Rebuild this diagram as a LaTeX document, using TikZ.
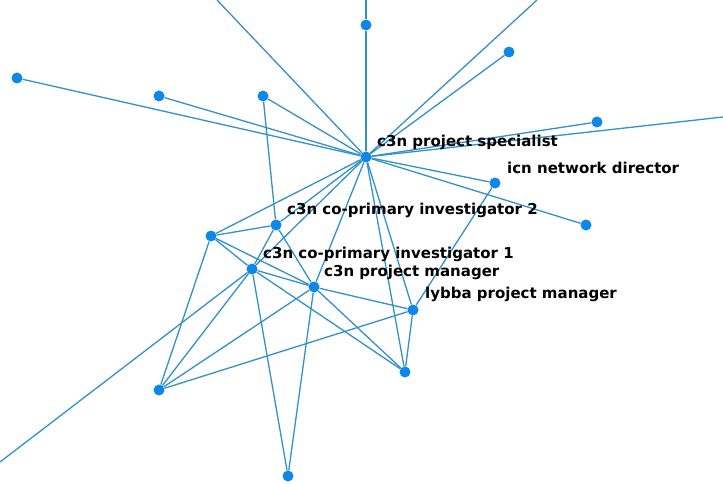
\documentclass[tikz,border=0pt]{standalone}
\usepackage{fontspec}
\setmainfont{DejaVu Sans}
\usepackage{tikz}

\definecolor{dotblue}{RGB}{15,135,230}
\definecolor{linkblue}{RGB}{50,145,200}

\tikzset{
  dot/.style={circle, fill=dotblue, inner sep=0pt, minimum size=11pt},
  link/.style={draw=linkblue, line width=1.3pt},
  tag/.style={anchor=west, inner sep=0pt, font=\bfseries\fontsize{15}{17}\selectfont}
}

\begin{document}
\begin{tikzpicture}[x=1pt, y=-1pt]
    \useasboundingbox (0,0) rectangle (723,484);

    % Draw the nodes
    \node[dot] (spec) at (366,157) {};
    \node[dot] (top) at (366,25) {};
    \node[dot] (ne) at (509,52) {};
    \node[dot] (east) at (597,122) {};
    \node[dot] (icn) at (495,183) {};
    \node[dot] (se) at (586,225) {};
    \node[dot] (far) at (17,78) {};
    \node[dot] (nw) at (159,96) {};
    \node[dot] (nnw) at (263,96) {};
    \node[dot] (left) at (211,236) {};
    \node[dot] (copi2) at (276,225) {};
    \node[dot] (copi1) at (252,269) {};
    \node[dot] (pm) at (314,287) {};
    \node[dot] (lybba) at (413,310) {};
    \node[dot] (low) at (405,372) {};
    \node[dot] (sw) at (159,390) {};
    \node[dot] (bottom) at (288,476) {};

    % Loose ends leaving the picture
    \coordinate (outtop) at (366,0);
    \coordinate (outtl) at (217,0);
    \coordinate (outtr) at (537,0);
    \coordinate (outright) at (723,117);
    \coordinate (outbl) at (0,462);

    % Draw the links
    \foreach \a/\b in {spec/top, top/outtop, spec/outtl, spec/outtr, spec/ne,
        spec/east, spec/outright, spec/far, spec/nw, spec/nnw, spec/icn,
        spec/se, spec/left, spec/copi2, spec/copi1, spec/pm, spec/low,
        spec/lybba, icn/lybba, nnw/copi2}
      \draw[link] (\a) -- (\b);
    \foreach \a/\b in {left/copi2, left/copi1, left/pm, left/sw,
        copi2/copi1, copi2/pm, copi1/pm, copi1/low, copi1/sw, copi1/bottom,
        copi1/outbl, pm/lybba, pm/low, pm/sw, pm/bottom, lybba/low, lybba/sw}
      \draw[link] (\a) -- (\b);

    % Label the nodes
    \node[tag] (specl) at (377,142) {c3n project specialist};
    \node[tag] (icnl) at (507,168) {icn network director};
    \node[tag] (copi2l) at (287,210) {c3n co-primary investigator 2};
    \node[tag] (copi1l) at (263,254) {c3n co-primary investigator 1};
    \node[tag] (pml) at (324,272) {c3n project manager};
    \node[tag] (lybbal) at (425,294) {lybba project manager};
\end{tikzpicture}
\end{document}
